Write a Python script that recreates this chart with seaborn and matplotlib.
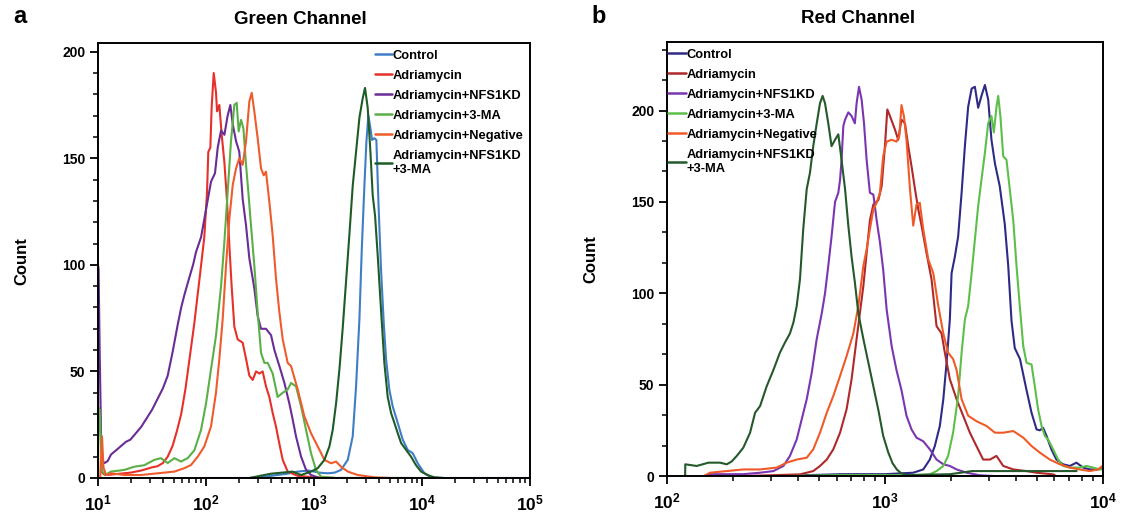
import numpy as np
import pandas as pd
import matplotlib
matplotlib.use("Agg")
import matplotlib.pyplot as plt
import seaborn as sns
from matplotlib.ticker import FixedLocator, FixedFormatter, MultipleLocator, LogLocator, NullFormatter

# ---------------- data ----------------
series_names = ["Control", "Adriamycin", "Adriamycin+NFS1KD", "Adriamycin+3-MA",
                "Adriamycin+Negative", "Adriamycin+NFS1KD\n+3-MA"]

# Panel a (Green Channel): log10(intensity) and counts
a_control_logx = [2.0, 2.45, 2.6, 2.75, 2.85, 2.95, 3.05, 3.127, 3.19, 3.25, 3.312, 3.358, 3.389, 3.42, 3.441,
                  3.466, 3.485, 3.503, 3.522, 3.537, 3.559, 3.577, 3.596, 3.62, 3.645, 3.667, 3.697, 3.728, 3.775,
                  3.821, 3.867, 3.914, 3.96, 4.022, 4.083, 4.2, 4.5, 5.0]
a_control_count = [0, 0, 1, 2, 3, 3.5, 2.5, 2.2, 2.5, 3.8, 8.5, 19.5, 43, 74.5, 106,
                   137, 158, 170, 164, 158.6, 159.4, 158.6, 129.6, 98, 73, 55.7, 41.5, 33.6, 25.8,
                   18, 13.2, 11.6, 6.9, 2.2, 0.3, 0, 0, 0]

a_adria_logx = [1.03, 1.06, 1.1, 1.2, 1.3, 1.4, 1.5, 1.55, 1.6, 1.645, 1.69, 1.73, 1.77, 1.81, 1.85, 1.89,
                1.92, 1.95, 1.984, 2.009, 2.021, 2.04, 2.052, 2.071, 2.092, 2.102, 2.123, 2.145, 2.17, 2.194,
                2.216, 2.237, 2.262, 2.293, 2.339, 2.37, 2.401, 2.432, 2.463, 2.494, 2.524, 2.555, 2.586,
                2.617, 2.648, 2.679, 2.71, 2.756, 2.848, 3.0, 3.2]
a_adria_count = [3, 1.5, 1.5, 2, 2.5, 3.5, 5, 5.5, 7, 10, 15, 22, 30, 42, 57, 72,
                 85, 98, 113, 134, 153, 155, 174, 190, 181, 172, 175, 161, 148, 130,
                 109, 90, 71, 65, 63.5, 56, 48, 46, 50, 49, 50, 43, 38,
                 30.5, 24, 16, 8.5, 3, 1, 0.3, 0]

a_nfs_logx = [1.0, 1.005, 1.015, 1.028, 1.04, 1.06, 1.09, 1.12, 1.167, 1.213, 1.259, 1.3, 1.35, 1.4, 1.45,
              1.5, 1.55, 1.6, 1.645, 1.69, 1.738, 1.77, 1.8, 1.845, 1.88, 1.907, 1.954, 2.0, 2.046, 2.083,
              2.108, 2.139, 2.17, 2.2, 2.225, 2.247, 2.278, 2.308, 2.339, 2.37, 2.401, 2.447, 2.478, 2.509,
              2.555, 2.602, 2.633, 2.679, 2.725, 2.771, 2.8, 2.833, 2.88, 2.926, 2.972, 3.05, 3.5, 3.9]
a_nfs_count = [100, 98, 60, 20, 8, 7, 8, 11, 13, 15, 17, 18, 21, 24, 28,
               32, 37, 42, 48, 59, 72, 80, 86, 94, 100, 106, 113, 126, 139, 143,
               155, 163, 161, 170, 175, 166, 158, 153, 131, 118.6, 103, 89, 76, 70,
               70, 67, 60, 52.5, 44.7, 35, 28, 19.5, 10, 3.8, 1.4, 0, 0, 0]

a_3ma_logx = [1.0, 1.005, 1.015, 1.028, 1.04, 1.07, 1.12, 1.2, 1.244, 1.336, 1.429, 1.521, 1.583, 1.645,
              1.707, 1.768, 1.83, 1.892, 1.954, 2.0, 2.046, 2.092, 2.139, 2.17, 2.2, 2.231, 2.262, 2.284,
              2.302, 2.324, 2.346, 2.37, 2.392, 2.416, 2.447, 2.478, 2.509, 2.54, 2.571, 2.617, 2.663, 2.71,
              2.756, 2.787, 2.833, 2.88, 2.926, 2.972, 3.018, 3.065, 3.2, 3.95]
a_3ma_count = [0, 33, 32, 15, 3, 1.5, 3, 3.5, 3.8, 5.3, 6, 8.5, 9.3, 7,
               9.3, 7.7, 9.3, 13, 22.6, 35, 51, 66.7, 90, 111, 134, 158, 175, 176,
               162.6, 168, 164, 147, 134, 118.6, 99.7, 77.7, 58.8, 54, 54, 49, 38, 40,
               41.5, 44.6, 43, 33.6, 22.6, 11.6, 3.8, 0.6, 0, 0]

a_neg_logx = [1.02, 1.037, 1.05, 1.074, 1.12, 1.244, 1.398, 1.552, 1.707, 1.799, 1.861, 1.923, 1.984, 2.046,
              2.092, 2.123, 2.154, 2.185, 2.216, 2.247, 2.278, 2.308, 2.339, 2.37, 2.401, 2.423, 2.447, 2.478,
              2.509, 2.534, 2.555, 2.586, 2.617, 2.648, 2.679, 2.71, 2.756, 2.787, 2.849, 2.91, 2.972, 3.034,
              3.096, 3.157, 3.204, 3.25, 3.312, 3.404, 3.559, 3.7]
a_neg_count = [0, 19.5, 5, 1.4, 2.2, 1.4, 1.4, 2.2, 3, 4.6, 6.1, 10, 14.8, 24.2,
               40, 55.7, 74.5, 99.7, 121.7, 137.4, 145.3, 150, 146.9, 157.9, 176.7, 180.7, 172, 159.4,
               145.3, 142, 143.7, 129.6, 113.8, 93.4, 77.7, 65, 54, 52.5, 41.5, 29, 21, 14.8,
               8.5, 6.9, 7.7, 5.3, 3, 1.4, 0.3, 0]

a_nfs3ma_logx = [2.4, 2.5, 2.6, 2.7, 2.8, 2.88, 2.972, 3.034, 3.096, 3.142, 3.173, 3.204, 3.235, 3.265,
                 3.296, 3.327, 3.358, 3.389, 3.42, 3.45, 3.472, 3.497, 3.522, 3.543, 3.565, 3.59, 3.62,
                 3.651, 3.682, 3.713, 3.744, 3.775, 3.806, 3.852, 3.898, 3.944, 3.991, 4.052, 4.114, 4.2]
a_nfs3ma_count = [0, 1, 2, 2.5, 3, 1.4, 3, 4.6, 8.5, 14.8, 22.6, 35, 51, 70,
                  92, 114, 137, 153, 169, 178, 183, 173.6, 153, 132.7, 123, 104, 79,
                  54, 38, 30.5, 25.8, 21, 16.4, 13.2, 10, 6, 3, 1.4, 0.3, 0]

# Panel b (Red Channel)
b_control_logx = [2.5, 2.8, 3.0, 3.13, 3.176, 3.206, 3.229, 3.252, 3.268, 3.283, 3.298, 3.306, 3.321, 3.336,
                  3.352, 3.367, 3.382, 3.398, 3.413, 3.428, 3.443, 3.459, 3.474, 3.489, 3.505, 3.527, 3.55,
                  3.566, 3.581, 3.596, 3.62, 3.65, 3.673, 3.696, 3.711, 3.726, 3.742, 3.764, 3.787, 3.818,
                  3.849, 3.879, 3.91, 3.94, 3.971, 3.998]
b_control_count = [0, 1, 1, 1.8, 3.6, 9, 16.4, 27.4, 42, 62, 85.7, 111, 120, 131,
                   155, 180.5, 202, 212, 213, 201.5, 208, 214, 206, 184, 171, 158.6, 138,
                   115, 85, 70, 64, 47, 34.6, 25.5, 25, 26.4, 21.9, 14.6, 9, 6.4,
                   5.5, 7.3, 4.6, 3.6, 3.6, 4]

b_adria_logx = [2.35, 2.5, 2.61, 2.671, 2.702, 2.733, 2.763, 2.794, 2.824, 2.847, 2.87, 2.885, 2.901, 2.916,
                2.931, 2.947, 2.97, 2.985, 3.0, 3.011, 3.023, 3.046, 3.061, 3.076, 3.092, 3.107, 3.122,
                3.138, 3.153, 3.168, 3.191, 3.214, 3.237, 3.26, 3.275, 3.298, 3.329, 3.359, 3.39, 3.42,
                3.451, 3.482, 3.512, 3.543, 3.589, 3.65, 3.696, 3.772, 3.787]
b_adria_count = [0, 0.5, 0.9, 2.7, 5.5, 9, 14.6, 23.7, 36.5, 53, 75, 89, 104, 122,
                 140, 148.6, 151, 158.6, 180.5, 200.6, 197, 189.6, 184, 195, 193, 180.5, 169.6,
                 157, 146, 137, 122, 107.6, 82, 78, 67.5, 53, 42, 33, 23.7, 16.4,
                 9, 9, 11, 5.5, 3.6, 2.7, 1.8, 0.9, 0]

b_nfs_logx = [2.17, 2.197, 2.274, 2.35, 2.427, 2.488, 2.534, 2.564, 2.595, 2.618, 2.641, 2.664, 2.687, 2.71,
              2.725, 2.74, 2.755, 2.771, 2.786, 2.794, 2.801, 2.809, 2.817, 2.832, 2.847, 2.862, 2.87, 2.881,
              2.893, 2.904, 2.916, 2.931, 2.947, 2.962, 2.977, 2.992, 3.008, 3.031, 3.053, 3.076, 3.099,
              3.122, 3.145, 3.176, 3.206, 3.237, 3.268, 3.298, 3.329, 3.375, 3.436, 3.5]
b_nfs_count = [0, 1, 1, 1, 1.8, 2.7, 5.5, 11, 20, 31, 42, 56.5, 75, 89,
               100, 115, 131, 150, 155, 162, 173, 191.5, 195, 199, 197, 193, 204, 213,
               206, 193, 173, 155, 154, 140, 128, 113, 91, 71, 58, 47, 33,
               25.5, 21, 19, 14.6, 9, 6.4, 5.5, 3.6, 1.8, 0.4, 0]

b_3ma_logx = [2.55, 2.8, 3.0, 3.13, 3.206, 3.237, 3.268, 3.29, 3.313, 3.336, 3.352, 3.367, 3.382, 3.398,
              3.413, 3.428, 3.443, 3.459, 3.474, 3.489, 3.5, 3.512, 3.52, 3.53, 3.543, 3.558, 3.573, 3.589,
              3.604, 3.619, 3.635, 3.65, 3.673, 3.688, 3.703, 3.719, 3.734, 3.749, 3.772, 3.795, 3.818,
              3.849, 3.894, 3.925, 3.956, 3.986, 3.998]
b_3ma_count = [0, 0.5, 0.5, 0.4, 0.9, 2.7, 5.5, 11, 23.7, 43.8, 67.5, 85.7, 93, 111,
               129.5, 147.7, 162, 177, 193, 197, 188, 202, 208, 197, 175, 173, 157, 140,
               115, 93, 71, 62, 61, 49, 36.5, 27.4, 21.9, 20, 14.6, 9, 5.5,
               4.6, 4.6, 5.5, 4.6, 3.6, 3.6]

b_neg_logx = [2.17, 2.197, 2.274, 2.35, 2.427, 2.503, 2.549, 2.595, 2.641, 2.671, 2.702, 2.733, 2.763, 2.794,
              2.824, 2.855, 2.878, 2.901, 2.916, 2.931, 2.947, 2.962, 2.977, 2.992, 3.008, 3.031, 3.053,
              3.066, 3.076, 3.087, 3.099, 3.115, 3.13, 3.145, 3.16, 3.176, 3.199, 3.222, 3.245, 3.268,
              3.29, 3.313, 3.329, 3.352, 3.382, 3.42, 3.466, 3.505, 3.543, 3.589, 3.635, 3.673, 3.711,
              3.757, 3.803, 3.849, 3.894, 3.94, 3.979, 3.998]
b_neg_count = [0, 1.8, 2.7, 3.6, 3.6, 4.6, 7.3, 9, 10, 14.6, 23.7, 34.6, 43.8, 54.7,
               65.6, 78, 93, 115, 124, 135, 146, 149.5, 155, 175, 183, 184, 183,
               186, 203, 197, 184, 157, 137, 148.6, 149.5, 135, 118.5, 111, 93, 78,
               67.5, 64, 58, 42, 33, 30, 27.4, 23.7, 23.7, 24.6, 21, 16.4, 12.8,
               9, 6.4, 4.6, 3.6, 2.7, 3.6, 5.5]

b_nfs3ma_logx = [2.083, 2.0835, 2.136, 2.19, 2.243, 2.274, 2.297, 2.32, 2.35, 2.381, 2.404, 2.427, 2.457,
                 2.488, 2.518, 2.541, 2.564, 2.58, 2.595, 2.61, 2.625, 2.641, 2.656, 2.671, 2.687, 2.702,
                 2.714, 2.725, 2.74, 2.755, 2.771, 2.786, 2.801, 2.817, 2.832, 2.847, 2.862, 2.878, 2.901,
                 2.924, 2.947, 2.97, 2.992, 3.015, 3.035, 3.055, 3.075, 3.1, 3.3, 3.4, 3.6, 3.88]
b_nfs3ma_count = [0, 6.4, 5.5, 7.3, 7.3, 6.4, 8, 11, 15.5, 23.7, 34.6, 38.3, 49,
                  58, 67.5, 73, 78, 84, 93, 107.6, 135, 157, 166, 180.5, 193, 204,
                  208, 204, 193, 180.5, 184, 187, 173, 157, 137, 120, 106, 89, 75,
                  62, 49, 36, 22, 13, 7, 3.5, 1.5, 0.5, 1, 2.7, 2.7, 2.7]

yticks = [0, 50, 100, 150, 200]
ytick_labels = ["0", "50", "100", "150", "200"]
xticks_a = [1e1, 1e2, 1e3, 1e4, 1e5]
xtick_labels_a = [r"$10^{1}$", r"$10^{2}$", r"$10^{3}$", r"$10^{4}$", r"$10^{5}$"]
xticks_b = [1e2, 1e3, 1e4]
xtick_labels_b = [r"$10^{2}$", r"$10^{3}$", r"$10^{4}$"]

colors_a = ["#3f7ec5", "#e8302a", "#6a2c95", "#5aaf46", "#ef5b2b", "#1e5c26"]
colors_b = ["#2e2a86", "#b0282a", "#7a35b0", "#5cbf4a", "#f05a28", "#24592a"]


def make_df(pairs):
    frames = []
    for name, (lx, cnt) in zip(series_names, pairs):
        frames.append(pd.DataFrame({"intensity": 10 ** np.asarray(lx, dtype=float),
                                    "count": np.asarray(cnt, dtype=float),
                                    "sample": name}))
    return pd.concat(frames, ignore_index=True)


df_a = make_df([(a_control_logx, a_control_count), (a_adria_logx, a_adria_count),
                (a_nfs_logx, a_nfs_count), (a_3ma_logx, a_3ma_count),
                (a_neg_logx, a_neg_count), (a_nfs3ma_logx, a_nfs3ma_count)])
df_b = make_df([(b_control_logx, b_control_count), (b_adria_logx, b_adria_count),
                (b_nfs_logx, b_nfs_count), (b_3ma_logx, b_3ma_count),
                (b_neg_logx, b_neg_count), (b_nfs3ma_logx, b_nfs3ma_count)])

# ---------------- style ----------------
sns.set_theme(style="ticks")
plt.rcParams["font.family"] = ["Liberation Sans", "DejaVu Sans"]
plt.rcParams["font.weight"] = "bold"
plt.rcParams["text.color"] = "black"
plt.rcParams["axes.labelcolor"] = "black"
plt.rcParams["xtick.color"] = "black"
plt.rcParams["ytick.color"] = "black"
plt.rcParams["mathtext.fontset"] = "custom"
plt.rcParams["mathtext.rm"] = "Liberation Sans:bold"
plt.rcParams["mathtext.it"] = "Liberation Sans:bold"
plt.rcParams["mathtext.bf"] = "Liberation Sans:bold"
plt.rcParams["mathtext.default"] = "rm"

fig = plt.figure(figsize=(11.23, 5.2), dpi=100)
ax_a = fig.add_axes([0.0873, 0.0808, 0.3847, 0.8362])
ax_b = fig.add_axes([0.594, 0.0846, 0.388, 0.8346])


def style_axes(ax, df, palette, xlim, ylim, xticks, xlabels, yminor, title, title_x):
    sns.lineplot(data=df, x="intensity", y="count", hue="sample", hue_order=series_names,
                 palette=palette, estimator=None, sort=True, linewidth=1.5, ax=ax)
    ax.set_xscale("log")
    ax.set_xlim(*xlim)
    ax.set_ylim(*ylim)
    ax.xaxis.set_major_locator(FixedLocator(xticks))
    ax.xaxis.set_major_formatter(FixedFormatter(xlabels))
    ax.xaxis.set_minor_locator(LogLocator(base=10, subs=range(2, 10), numticks=20))
    ax.xaxis.set_minor_formatter(NullFormatter())
    ax.yaxis.set_major_locator(FixedLocator(yticks))
    ax.yaxis.set_major_formatter(FixedFormatter(ytick_labels))
    ax.yaxis.set_minor_locator(MultipleLocator(yminor))
    ax.tick_params(axis="both", which="major", direction="out", length=6, width=1.3,
                   labelsize=10, pad=3, color="black", labelcolor="black")
    ax.tick_params(axis="both", which="minor", direction="out", length=3.5, width=1.1, color="black")
    ax.tick_params(axis="x", which="major", pad=5, labelsize=12.5)
    for s in ax.spines.values():
        s.set_linewidth(1.4)
        s.set_color("black")
    ax.set_xlabel("")
    ax.set_ylabel("Count", fontsize=12, fontweight="bold", labelpad=24, color="black")
    ax.set_title(title, fontsize=13.5, fontweight="bold", pad=14, color="black", x=title_x)


style_axes(ax_a, df_a, colors_a, (1e1, 1e5), (0, 204), xticks_a, xtick_labels_a, 10,
           "Green Channel", 0.468)
style_axes(ax_b, df_b, colors_b, (1e2, 1e4), (0, 237.5), xticks_b, xtick_labels_b, 50 / 3,
           "Red Channel", 0.438)

for ax, loc, anchor in [(ax_a, "upper right", (1.0, 1.0)), (ax_b, "upper left", (-0.012, 1.0))]:
    handles, labels = ax.get_legend_handles_labels()
    leg = ax.legend(handles, labels, loc=loc, bbox_to_anchor=anchor, frameon=False,
                    prop={"size": 9.3, "weight": "bold"}, handlelength=1.35, handletextpad=0.05,
                    labelspacing=0.62, borderaxespad=0.3, borderpad=0.2)
    for line in leg.get_lines():
        line.set_linewidth(1.8)
    for t in leg.get_texts():
        t.set_color("black")

fig.text(0.012, 0.968, "a", fontsize=17, fontweight="bold", ha="left", va="center", color="black")
fig.text(0.527, 0.968, "b", fontsize=17, fontweight="bold", ha="left", va="center", color="black")

fig.savefig("out.png", dpi=100, facecolor="white")
